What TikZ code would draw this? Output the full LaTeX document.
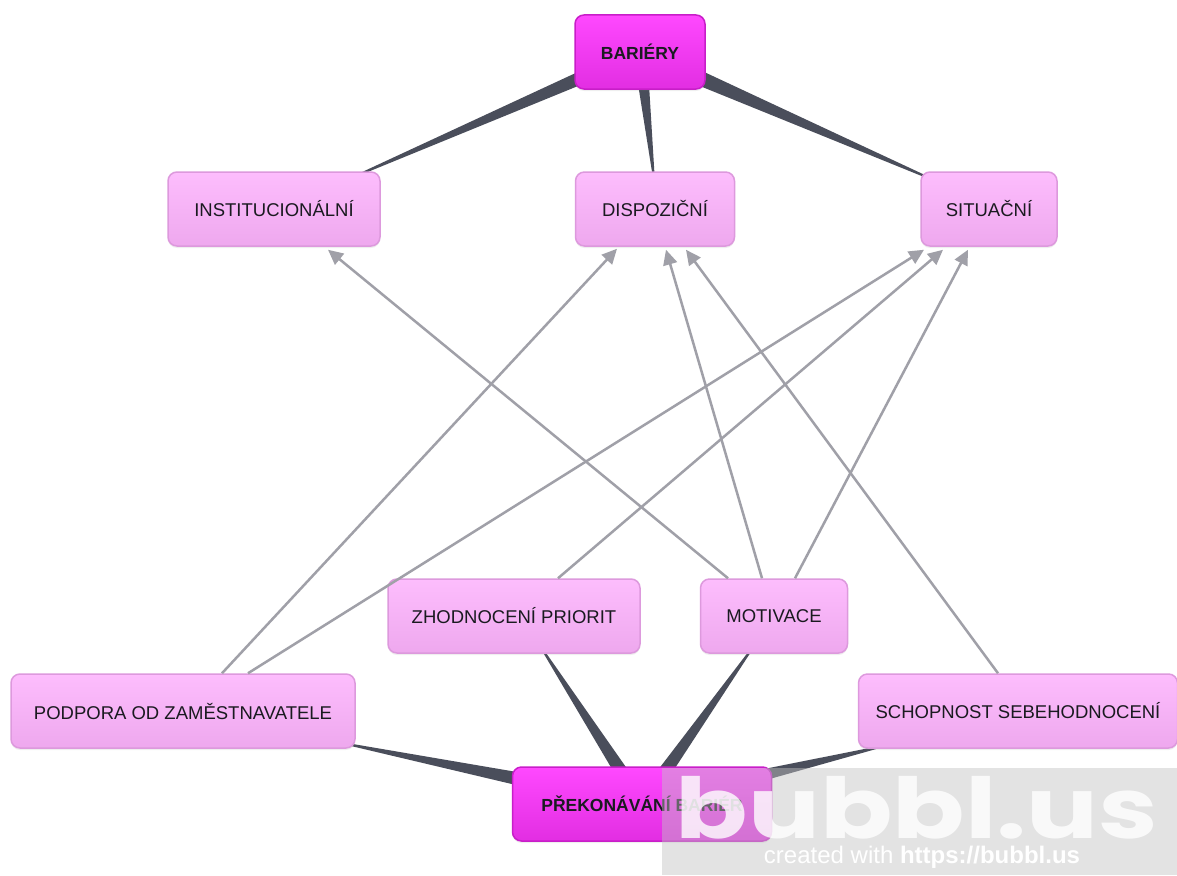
\documentclass[tikz,border=0pt]{standalone}
\usepackage{fontspec}
\setmainfont{Liberation Sans}
\newfontfamily\logofont{Poppins}
\usetikzlibrary{arrows.meta,calc,backgrounds,shadows}
\definecolor{childtop}{HTML}{FDBDFD}
\definecolor{childbot}{HTML}{EEA8EE}
\definecolor{childline}{HTML}{DD99DD}
\definecolor{maintop}{HTML}{FF48FF}
\definecolor{mainbot}{HTML}{E22EE2}
\definecolor{mainline}{HTML}{C81EC8}
\definecolor{tapercol}{HTML}{4A4E5B}
\definecolor{arrowcol}{HTML}{A0A0A8}
\definecolor{txt}{HTML}{1A1A20}
\newcommand{\taperlink}[3]{\fill[tapercol] ($(#1.center)!#3!90:(#2)$) -- ($(#1.center)!#3!-90:(#2)$) -- ($(#2)!0.8pt!90:(#1.center)$) -- ($(#2)!0.8pt!-90:(#1.center)$) -- cycle;}
\begin{document}
\begin{tikzpicture}[x=1pt,y=-1pt,
 childbox/.style={draw=childline, line width=1.5pt, rounded corners=9pt, top color=childtop, bottom color=childbot, minimum height=74pt, inner sep=0pt, font=\fontsize{18.5}{20}\selectfont, text=txt, drop shadow={opacity=0.12, shadow xshift=0pt, shadow yshift=-2pt}},
 mainbox/.style={childbox, draw=mainline, top color=maintop, bottom color=mainbot, font=\fontsize{17.5}{20}\selectfont\bfseries},
 arr/.style={draw=arrowcol, line width=2.5pt, -{Triangle[length=15pt,width=14pt]}},
]
\useasboundingbox (0,0) rectangle (1177,875);

% nodes
\node[mainbox, minimum width=130pt] (bar) at (640,52) {BARIÉRY};
\node[childbox, minimum width=212pt] (inst) at (274,209) {INSTITUCIONÁLNÍ};
\node[childbox, minimum width=159pt] (disp) at (655,209) {DISPOZIČNÍ};
\node[childbox, minimum width=136pt] (sit) at (989,209) {SITUAČNÍ};
\node[childbox, minimum width=252pt] (zhod) at (514,616) {ZHODNOCENÍ PRIORIT};
\node[childbox, minimum width=147pt] (motiv) at (774,616) {MOTIVACE};
\node[childbox, minimum width=344pt] (podp) at (183,711) {PODPORA OD ZAMĚSTNAVATELE};
\node[childbox, minimum width=319pt] (schop) at (1018,711) {SCHOPNOST SEBEHODNOCENÍ};
\node[mainbox, minimum width=259pt] (prek) at (642,804) {PŘEKONÁVÁNÍ BARIÉR};

% tip points of tapered links (hidden inside the child boxes)
\coordinate (t1) at ([xshift=-28pt,yshift=-6pt]inst.north east);
\coordinate (t2) at ([xshift=-1pt,yshift=-8pt]disp.north);
\coordinate (t3) at ([xshift=14pt,yshift=-9pt]sit.north west);
\coordinate (t4) at ([xshift=-15pt,yshift=6pt]podp.south east);
\coordinate (t5) at ([xshift=26pt,yshift=8pt]zhod.south);
\coordinate (t6) at ([xshift=-20pt,yshift=8pt]motiv.south);
\coordinate (t7) at ([xshift=27pt,yshift=3pt]schop.south west);

\begin{scope}[on background layer]
\fill[white] (0,0) rectangle (1177,875);
\taperlink{bar}{t1}{8pt}
\taperlink{bar}{t2}{7pt}
\taperlink{bar}{t3}{9pt}
\taperlink{prek}{t4}{10.5pt}
\taperlink{prek}{t5}{8pt}
\taperlink{prek}{t6}{8pt}
\taperlink{prek}{t7}{10.5pt}
\end{scope}

% arrows
\draw[arr] ([xshift=-46pt]motiv.north) -- ([xshift=54pt,yshift=-3pt]inst.south);
\draw[arr] ([xshift=39pt]podp.north) -- ([xshift=-38pt,yshift=-2pt]disp.south);
\draw[arr] ([xshift=65pt]podp.north) -- ([xshift=-65pt,yshift=-3pt]sit.south);
\draw[arr] ([xshift=44pt]zhod.north) -- ([xshift=-46pt,yshift=-3pt]sit.south);
\draw[arr] ([xshift=-12pt]motiv.north) -- ([xshift=11pt,yshift=-3pt]disp.south);
\draw[arr] ([xshift=21pt]motiv.north) -- ([xshift=-21pt,yshift=-3pt]sit.south);
\draw[arr] ([xshift=-20pt]schop.north) -- ([xshift=31pt,yshift=-3pt]disp.south);

% watermark
\fill[gray!48, opacity=0.45] (662,768) rectangle (1177,875);
\node[text=white, text opacity=0.8, font=\logofont\bfseries\fontsize{84}{84}\selectfont, inner sep=0pt, text depth=0pt, anchor=base] (logo) at (917,838) {\scalebox{1.27}[1]{bubbl.us}};
\node[text=white, font=\fontsize{24}{26}\selectfont, inner sep=0pt, anchor=base] (cap) at (922,863) {created with \textbf{https://bubbl.us}};
\end{tikzpicture}
\end{document}
